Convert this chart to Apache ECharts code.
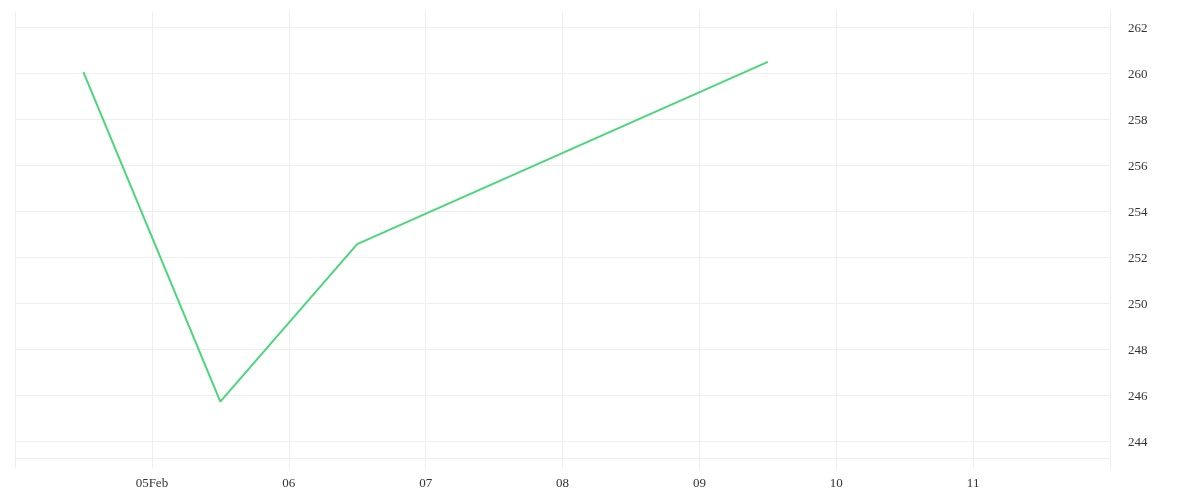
<!DOCTYPE html>
<html>
<head>
<meta charset="utf-8">
<script src="https://cdn.jsdelivr.net/npm/echarts@6/dist/echarts.min.js"></script>
<style>
  html, body { margin: 0; padding: 0; background: #fff; }
  #chart { width: 1200px; height: 500px; }
</style>
</head>
<body>
<div id="chart"></div>
<script>
// x values are days of February (12:00 = .5)
const xDays = [4.5, 5.5, 6.5, 9.5];
const closeValues = [260.04, 245.71, 252.56, 260.48];

const xTickValues = [4, 5, 6, 7, 8, 9, 10, 11, 12];
const xTickLabels = ["", "05Feb", "06", "07", "08", "09", "10", "11", ""];
const yTickValues = [244, 246, 248, 250, 252, 254, 256, 258, 260, 262];

const gridColor = "#eeeeee";
const labelFont = "'Liberation Serif', serif";

const chart = echarts.init(document.getElementById("chart"));

const option = {
  animation: false,
  grid: { left: 15, right: 90, top: 12, bottom: 42 },
  xAxis: {
    type: "value",
    min: 4,
    max: 12,
    interval: 1,
    axisLine: { show: true, lineStyle: { color: gridColor } },
    axisTick: { show: true, length: 10, lineStyle: { color: gridColor } },
    splitLine: { show: true, lineStyle: { color: gridColor } },
    axisLabel: {
      color: "#333",
      fontFamily: labelFont,
      fontSize: 13,
      margin: 19,
      showMinLabel: true,
      showMaxLabel: true,
      formatter: (v) => {
        const i = xTickValues.indexOf(v);
        return i >= 0 ? xTickLabels[i] : "";
      }
    }
  },
  yAxis: {
    type: "value",
    position: "right",
    min: 243.26,
    max: 262.65,
    scale: true,
    axisLine: { show: true, lineStyle: { color: gridColor } },
    axisTick: { show: false, customValues: yTickValues },
    splitLine: { show: true, lineStyle: { color: gridColor } },
    axisLabel: {
      color: "#333",
      fontFamily: labelFont,
      fontSize: 13,
      margin: 18,
      customValues: yTickValues,
      formatter: "{v|{value}}",
      rich: {
        v: { fontFamily: labelFont, fontSize: 13, color: "#333", padding: [4, 0, 0, 0] }
      }
    }
  },
  series: [
    {
      type: "line",
      data: xDays.map((d, i) => [d, closeValues[i]]),
      showSymbol: false,
      lineStyle: { width: 2, color: "#4cd67a" }
    }
  ]
};

chart.setOption(option);
</script>
</body>
</html>
